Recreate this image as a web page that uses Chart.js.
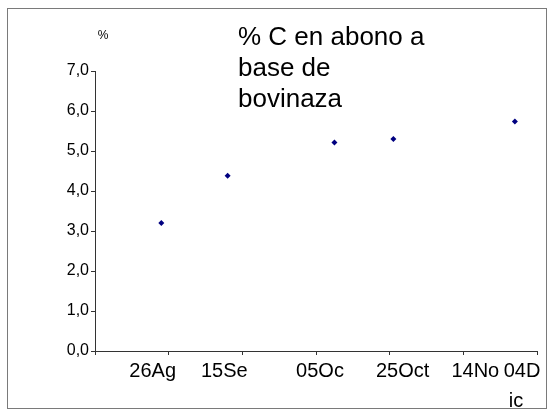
<!DOCTYPE html>
<html>
<head>
<meta charset="utf-8">
<script src="https://cdn.jsdelivr.net/npm/chart.js@4"></script>
<style>
  html, body { margin: 0; padding: 0; background: #fff; }
  #wrap { width: 550px; height: 413px; }
</style>
</head>
<body>
<div id="wrap"><canvas id="chart" width="550" height="413"></canvas></div>
<script>
// days counted from 06 Aug (x axis origin)
const sampleDays = [18, 36, 65, 81, 114];
const carbonPct = [3.2, 4.38, 5.21, 5.3, 5.74];
const xTickLabels = ["", "26Ag", "15Se", "05Oc", "25Oct", "14No", ["04D", "ic"]];
const titleLines = ["% C en abono a", "base de", "bovinaza"];
const unitLabel = "%";

// excel shifted its wrapped date labels a bit off the tick marks
const labelNudge = [0, -16, -18, 4, 13, 12, -15];

const points = sampleDays.map((d, i) => ({ x: d, y: carbonPct[i] }));
const FONT = "'Liberation Sans', Arial, sans-serif";

const decor = {
    id: "decor",
    beforeDraw(chart) {
        const ctx = chart.ctx;
        ctx.save();
        ctx.fillStyle = "#fff";
        ctx.fillRect(0, 0, chart.width, chart.height);
        ctx.strokeStyle = "#7a7a7a";
        ctx.lineWidth = 1;
        ctx.strokeRect(7.5, 8.5, 539, 400);
        ctx.restore();
    },
    afterDraw(chart) {
        const ctx = chart.ctx;
        const xs = chart.scales.x;
        ctx.save();
        ctx.fillStyle = "#000";
        ctx.textBaseline = "alphabetic";
        ctx.font = "26px " + FONT;
        const base = [45, 76, 107];
        titleLines.forEach((t, i) => ctx.fillText(t, 238, base[i]));

        ctx.textAlign = "center";
        ctx.font = "12px " + FONT;
        ctx.fillText(unitLabel, 103, 39);

        // date labels under the x axis
        ctx.font = "20px " + FONT;
        xTickLabels.forEach((lab, i) => {
            const lines = Array.isArray(lab) ? lab : [lab];
            const px = xs.getPixelForValue(i * 20) + labelNudge[i];
            lines.forEach((ln, j) => ctx.fillText(ln, px - j * 6, xs.top + 26 + j * 30));
        });
        ctx.restore();
    }
};

new Chart(document.getElementById("chart"), {
    type: "scatter",
    data: {
        datasets: [{
            data: points,
            backgroundColor: "#000080",
            borderColor: "#000080",
            borderWidth: 0,
            pointStyle: "rectRot",
            pointRadius: 3,
            pointHoverRadius: 3
        }]
    },
    options: {
        responsive: false,
        animation: false,
        events: [],
        layout: { padding: { left: 0, top: 71, right: 13, bottom: 0 } },
        plugins: { legend: { display: false }, tooltip: { enabled: false } },
        scales: {
            x: {
                type: "linear",
                min: 0,
                max: 120,
                afterFit: s => { s.height = 62; },
                border: { color: "#333", width: 1 },
                grid: { drawOnChartArea: false, tickLength: 4, color: "#333" },
                ticks: { stepSize: 20, display: false }
            },
            y: {
                min: 0,
                max: 7,
                afterFit: s => { s.width = 95; },
                border: { color: "#333", width: 1 },
                grid: { drawOnChartArea: false, tickLength: 4, color: "#333" },
                ticks: {
                    stepSize: 1,
                    padding: 2,
                    color: "#000",
                    font: { family: FONT, size: 16 },
                    callback: (v) => v.toFixed(1).replace(".", ",")
                }
            }
        }
    },
    plugins: [decor]
});
</script>
</body>
</html>
